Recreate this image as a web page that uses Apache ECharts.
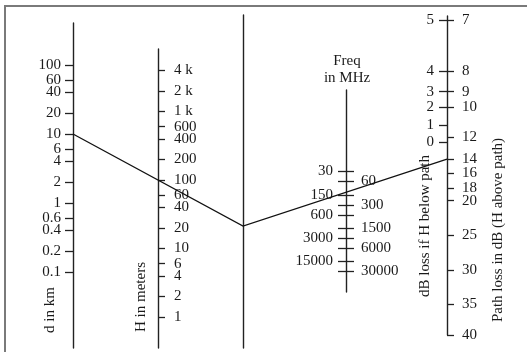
<!DOCTYPE html>
<html>
<head>
<meta charset="utf-8">
<script src="https://cdn.jsdelivr.net/npm/echarts@6/dist/echarts.min.js"></script>
<style>
  html, body { margin: 0; padding: 0; background: #fff; }
  #chart { width: 527px; height: 352px; }
</style>
</head>
<body>
<div id="chart"></div>
<script>
// ---- Scale graduations -------------------------------------------------
// Distance between terminals (km)
const distanceTicks  = [100, 60, 40, 20, 10, 6, 4, 2, 1, 0.6, 0.4, 0.2, 0.1];
const distanceLabels = ['100', '60', '40', '20', '10', '6', '4', '2', '1', '0.6', '0.4', '0.2', '0.1'];

// Obstacle height (m)
const heightTicks  = [4000, 2000, 1000, 600, 400, 200, 100, 60, 40, 20, 10, 6, 4, 2, 1];
const heightLabels = ['4 k', '2 k', '1 k', '600', '400', '200', '100', '60', '40', '20', '10', '6', '4', '2', '1'];

// Frequency (MHz); labels alternate between the two sides of the scale
const freqLeftTicks  = [30, 150, 600, 3000, 15000];
const freqRightTicks = [60, 300, 1500, 6000, 30000];

// Loss scale: graduated in the clearance parameter |v| (log), labelled in dB
const lossBelowLabels = [5, 4, 3, 2, 1, 0];
const lossBelowV      = [0.111, 0.260, 0.370, 0.483, 0.651, 0.872];
const lossAboveLabels = [7, 8, 9, 10, 12, 14, 16, 18, 20, 25, 30, 35, 40];
const lossAboveV      = [0.111, 0.260, 0.370, 0.483, 0.804, 1.157, 1.473, 1.898, 2.342, 4.183, 7.564, 13.51, 22.72];

// Worked example drawn across the nomogram
const exampleDistance = 10;   // km
const exampleHeight   = 100;  // m
const exampleFreq     = 150;  // MHz
const exampleLoss     = 14;   // dB

// ---- Layout -------------------------------------------------------------
const FONT = 'Liberation Serif';
const FS = 15;
const INK = '#1a1a1a';
const AXIS = '#222';

// each scale: x position, vertical extent in px, value range at the ends
const layout = {
  d:     { x: 73,  top: 23, bottom: 348, lo: 0.007917, hi: 406.1,  inverse: false },
  h:     { x: 158, top: 49, bottom: 348, lo: 0.3527,   hi: 8174,   inverse: false },
  pivot: { x: 243, top: 15, bottom: 348, lo: 0.1,      hi: 10,     inverse: false },
  f:     { x: 346, top: 90, bottom: 292, lo: 0.1076,   hi: 123760, inverse: true },
  loss:  { x: 447, top: 16, bottom: 335, lo: 0.1029,   hi: 22.72,  inverse: true }
};
const order = ['d', 'h', 'pivot', 'f', 'loss'];

const lg = Math.log10;

function nearestLabel(values, labels) {
  const logs = values.map(lg);
  return function (v) {
    let best = 0, bd = Infinity;
    logs.forEach(function (l, i) { const dd = Math.abs(l - v); if (dd < bd) { bd = dd; best = i; } });
    return String(labels[best]);
  };
}

const grids = order.map(function (k) {
  const s = layout[k];
  return { left: s.x, top: s.top, width: 0, height: s.bottom - s.top, containLabel: false };
});
const xAxes = order.map(function (k, i) {
  return { type: 'value', gridIndex: i, show: false, min: 0, max: 1 };
});

function yAxis(key, position, opts) {
  const s = layout[key];
  const gi = order.indexOf(key);
  return {
    type: 'value', gridIndex: gi, position: position,
    min: lg(s.lo), max: lg(s.hi), inverse: s.inverse,
    splitLine: { show: false },
    axisLine: { show: opts.line !== false, onZero: false, lineStyle: { color: AXIS, width: 1.4 } },
    axisTick: opts.ticks ? {
      show: true, customValues: opts.ticks.map(lg), length: opts.tickLen || 7,
      lineStyle: { color: AXIS, width: 1.3 }
    } : { show: false },
    axisLabel: opts.labels ? {
      show: true, customValues: opts.labels.values.map(lg),
      formatter: nearestLabel(opts.labels.values, opts.labels.text),
      margin: opts.margin, hideOverlap: false,
      fontFamily: FONT, fontSize: FS, color: INK
    } : { show: false }
  };
}

const freqAll = freqLeftTicks.concat(freqRightTicks).sort(function (a, b) { return a - b; });

const yAxes = [
  yAxis('d', 'left', { ticks: distanceTicks, tickLen: 8, margin: 12,
    labels: { values: distanceTicks, text: distanceLabels } }),
  yAxis('h', 'right', { ticks: heightTicks, tickLen: 7, margin: 16,
    labels: { values: heightTicks, text: heightLabels } }),
  yAxis('pivot', 'left', {}),
  yAxis('f', 'left', { ticks: freqAll, tickLen: 8, margin: 13,
    labels: { values: freqLeftTicks, text: freqLeftTicks } }),
  yAxis('f', 'right', { line: false, ticks: freqAll, tickLen: 8, margin: 15,
    labels: { values: freqRightTicks, text: freqRightTicks } }),
  yAxis('loss', 'left', { ticks: lossBelowV, tickLen: 8, margin: 13,
    labels: { values: lossBelowV, text: lossBelowLabels } }),
  yAxis('loss', 'right', { line: false, ticks: lossAboveV, tickLen: 7, margin: 15,
    labels: { values: lossAboveV, text: lossAboveLabels } })
];
const Y = { d: 0, h: 1, pivot: 2, f: 3, loss: 6 };

const chart = echarts.init(document.getElementById('chart'), null, { renderer: 'canvas' });
chart.setOption({
  animation: false,
  backgroundColor: '#fff',
  grid: grids,
  xAxis: xAxes,
  yAxis: yAxes,
  series: []
});

// ---- Construction line: distance -> height -> pivot -> loss -------------
function axisX(key) {
  return chart.convertToPixel({ gridIndex: order.indexOf(key) }, [0, 0])[0];
}
function axisY(key, value) {
  return chart.convertToPixel({ yAxisIndex: Y[key] }, lg(value));
}
const pD = [axisX('d'), axisY('d', exampleDistance)];
const pH = [axisX('h'), axisY('h', exampleHeight)];
const xP = axisX('pivot');
const pP = [xP, pD[1] + (pH[1] - pD[1]) * (xP - pD[0]) / (pH[0] - pD[0])];
const pL = [axisX('loss'), axisY('loss', lossAboveV[lossAboveLabels.indexOf(exampleLoss)])];

function label(text, x, y, rot) {
  return {
    type: 'text', x: x, y: y, rotation: rot || 0, silent: true,
    style: { text: text, fontFamily: FONT, fontSize: FS, fill: INK, align: 'center', verticalAlign: 'middle' }
  };
}

chart.setOption({
  graphic: { elements: [
    // figure border (top and left edges)
    { type: 'polyline', shape: { points: [[5, 352], [5, 6], [527, 6]] }, silent: true,
      style: { fill: 'none', stroke: '#7a7a7a', lineWidth: 2 } },
    { type: 'polyline', shape: { points: [pD, pP, pL] }, silent: true, z: 10,
      style: { stroke: '#111', lineWidth: 1.3, fill: 'none' } },
    label('d in km', 50, 310, Math.PI / 2),
    label('H in meters', 141, 297, Math.PI / 2),
    label('Freq', 347, 61),
    label('in MHz', 347, 78),
    label('dB loss if H below path', 425, 226, Math.PI / 2),
    label('Path loss in dB (H above path)', 498, 230, Math.PI / 2)
  ] }
});
</script>
</body>
</html>
